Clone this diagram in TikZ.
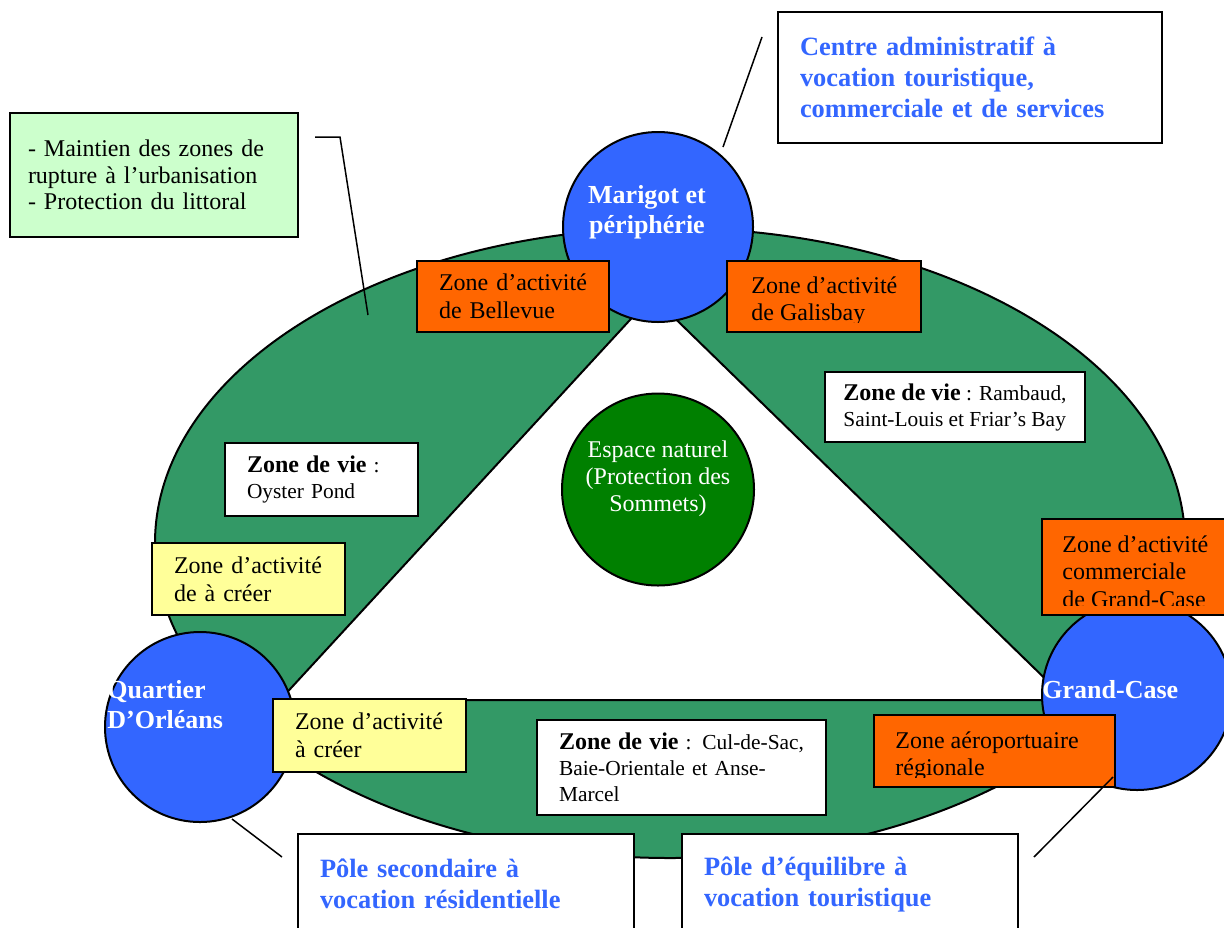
\documentclass[tikz,border=0pt]{standalone}
\usepackage{fontspec}
\setmainfont{Liberation Serif}
\usetikzlibrary{positioning}
\definecolor{Meadow}{HTML}{339966}
\definecolor{Forest}{HTML}{008000}
\definecolor{PoleBlue}{HTML}{3366FF}
\definecolor{Tangerine}{HTML}{FF6600}
\definecolor{Lemon}{HTML}{FFFF99}
\definecolor{Mint}{HTML}{CCFFCC}
\newcommand{\viehead}{{\bfseries\fontsize{12}{13}\selectfont Zone de vie}}

\begin{document}
\begin{tikzpicture}[
  x=0.5pt,
  y=-0.5pt,
  zbox/.style={draw,line width=1pt,inner xsep=11pt,inner ysep=0pt,align=left,font=\fontsize{12}{13.8}\selectfont},
  actbox/.style={zbox,fill=Tangerine},
  newbox/.style={zbox,fill=Lemon},
  viebox/.style={zbox,fill=white,font=\fontsize{10.7}{13}\selectfont},
  polebox/.style={zbox,fill=white,text=PoleBlue,font=\bfseries\fontsize{13.2}{15.5}\selectfont},
  notebox/.style={zbox,fill=Mint,inner xsep=9pt,font=\fontsize{12}{13.3}\selectfont},
  pole/.style={circle,draw,line width=1pt,fill=PoleBlue,minimum size=95pt,inner sep=0pt},
  polename/.style={text=white,inner sep=0pt,font=\bfseries\fontsize{13}{15}\selectfont},
  acttext/.style={inner sep=0pt,align=left,font=\fontsize{12}{13.8}\selectfont},
  callout/.style={line width=0.75pt}
]
  \useasboundingbox (0,0) rectangle (1224,927);
  \fill[white] (0,0) rectangle (1224,927);
  \clip (0,0) rectangle (1224,927);

  % island ring and central triangle
  \filldraw[fill=Meadow,line width=1pt] (670,543) ellipse [x radius=515,y radius=315];
  \filldraw[fill=white,line width=1pt] (652,296) -- (280,700) -- (1067,700) -- cycle;
  \node[circle,draw,line width=1pt,fill=Forest,minimum size=96pt,inner sep=0pt] (espace) at (658,489.5) {};
  \node[text=white,align=center,font=\fontsize{12}{13.5}\selectfont] (espacelbl) at (658,479)
    {Espace naturel\\(Protection des\\Sommets)};

  % poles
  \node[pole] (marigot) at (658,227) {};
  \node[pole] (quartier) at (200,727) {};
  \node[pole] (grandcase) at (1137,695) {};

  % zones around the ring
  \node[actbox,minimum width=96pt,minimum height=35.5pt,text width=74pt] (bellevue) at (513,296.5)
    {Zone d’activité\\de Bellevue};
  \node[actbox,minimum width=97pt,minimum height=35.5pt] (galisbay) at (824,296.5) {};
  \begin{scope}
    \clip (galisbay.north west) rectangle ([yshift=5.5pt]galisbay.south east);
    \node[acttext,anchor=north west] (galisbaytxt) at (751,276) {Zone d’activité\\de Galisbay};
  \end{scope}
  \node[viebox,inner xsep=8pt,minimum width=130pt,minimum height=35pt] (rambaud) at (955,407)
    {\viehead~: Rambaud,\\Saint-Louis et Friar’s Bay};
  \node[viebox,minimum width=96.5pt,minimum height=36.5pt,text width=74.5pt] (oyster) at (321.5,479.5)
    {\viehead~:\\Oyster Pond};
  \node[newbox,minimum width=96.5pt,minimum height=36pt,text width=74.5pt] (creerouest) at (248.5,579)
    {Zone d’activité\\de à créer};
  \node[actbox,minimum width=96pt,minimum height=48pt] (commerciale) at (1138,567) {};
  \begin{scope}
    \clip (commerciale.north west) rectangle ([yshift=5.5pt]commerciale.south east);
    \node[acttext,anchor=north west] (commercialetxt) at (1062,535)
      {Zone d’activité\\commerciale\\de Grand-Case};
  \end{scope}
  \node[newbox,minimum width=96.5pt,minimum height=36.5pt,text width=74.5pt] (creersud) at (369.5,735.5)
    {Zone d’activité\\à créer};
  \node[viebox,minimum width=144.5pt,minimum height=47.5pt,text width=122.5pt] (culdesac) at (681.5,767.5)
    {\viehead~: Cul-de-Sac,\\Baie-Orientale et Anse-\\Marcel};
  \node[actbox,minimum width=120.5pt,minimum height=36pt] (aeroport) at (994.5,751) {};
  \begin{scope}
    \clip (aeroport.north west) rectangle ([yshift=5.5pt]aeroport.south east);
    \node[acttext,anchor=north west] (aeroporttxt) at (895,731) {Zone aéroportuaire\\régionale};
  \end{scope}

  % pole names
  \node[polename,align=center] (marigotlbl) at (647,212) {Marigot et\\périphérie};
  \node[polename,align=left,anchor=west] (quartierlbl) at (107,705) {Quartier\\D’Orléans};
  \node[polename,anchor=west] (grandcaselbl) at (1042,690) {Grand-Case};

  % outer notes
  \node[notebox,minimum width=144pt,minimum height=62pt,text width=126pt] (rupture) at (154,175)
    {- Maintien des zones de\\rupture à l’urbanisation\\- Protection du littoral};
  \node[polebox,minimum width=192pt,minimum height=65.5pt,text width=170pt] (centre) at (970,77.5)
    {Centre administratif à\\vocation touristique,\\commerciale et de services};
  \node[polebox,minimum width=168pt,minimum height=50pt,text width=146pt] (secondaire) at (466,884)
    {Pôle secondaire à\\vocation résidentielle};
  \node[polebox,minimum width=168pt,minimum height=50pt,text width=146pt] (equilibre) at (850,884)
    {Pôle d’équilibre à\\vocation touristique};

  % callouts
  \coordinate (marigottip) at (723,147);
  \coordinate (centretip) at (762,37);
  \coordinate (rupturetip) at (315,137);
  \coordinate (rupturebend) at (340,137);
  \coordinate (ringtip) at (368,315);
  \coordinate (quartiertip) at (232,819);
  \coordinate (secondairetip) at (282,857);
  \coordinate (aeroporttip) at (1113,777);
  \coordinate (equilibretip) at (1034,857);
  \draw[callout] (marigottip) -- (centretip);
  \draw[callout] (rupturetip) -- (rupturebend) -- (ringtip);
  \draw[callout] (quartiertip) -- (secondairetip);
  \draw[callout] (aeroporttip) -- (equilibretip);
\end{tikzpicture}
\end{document}
